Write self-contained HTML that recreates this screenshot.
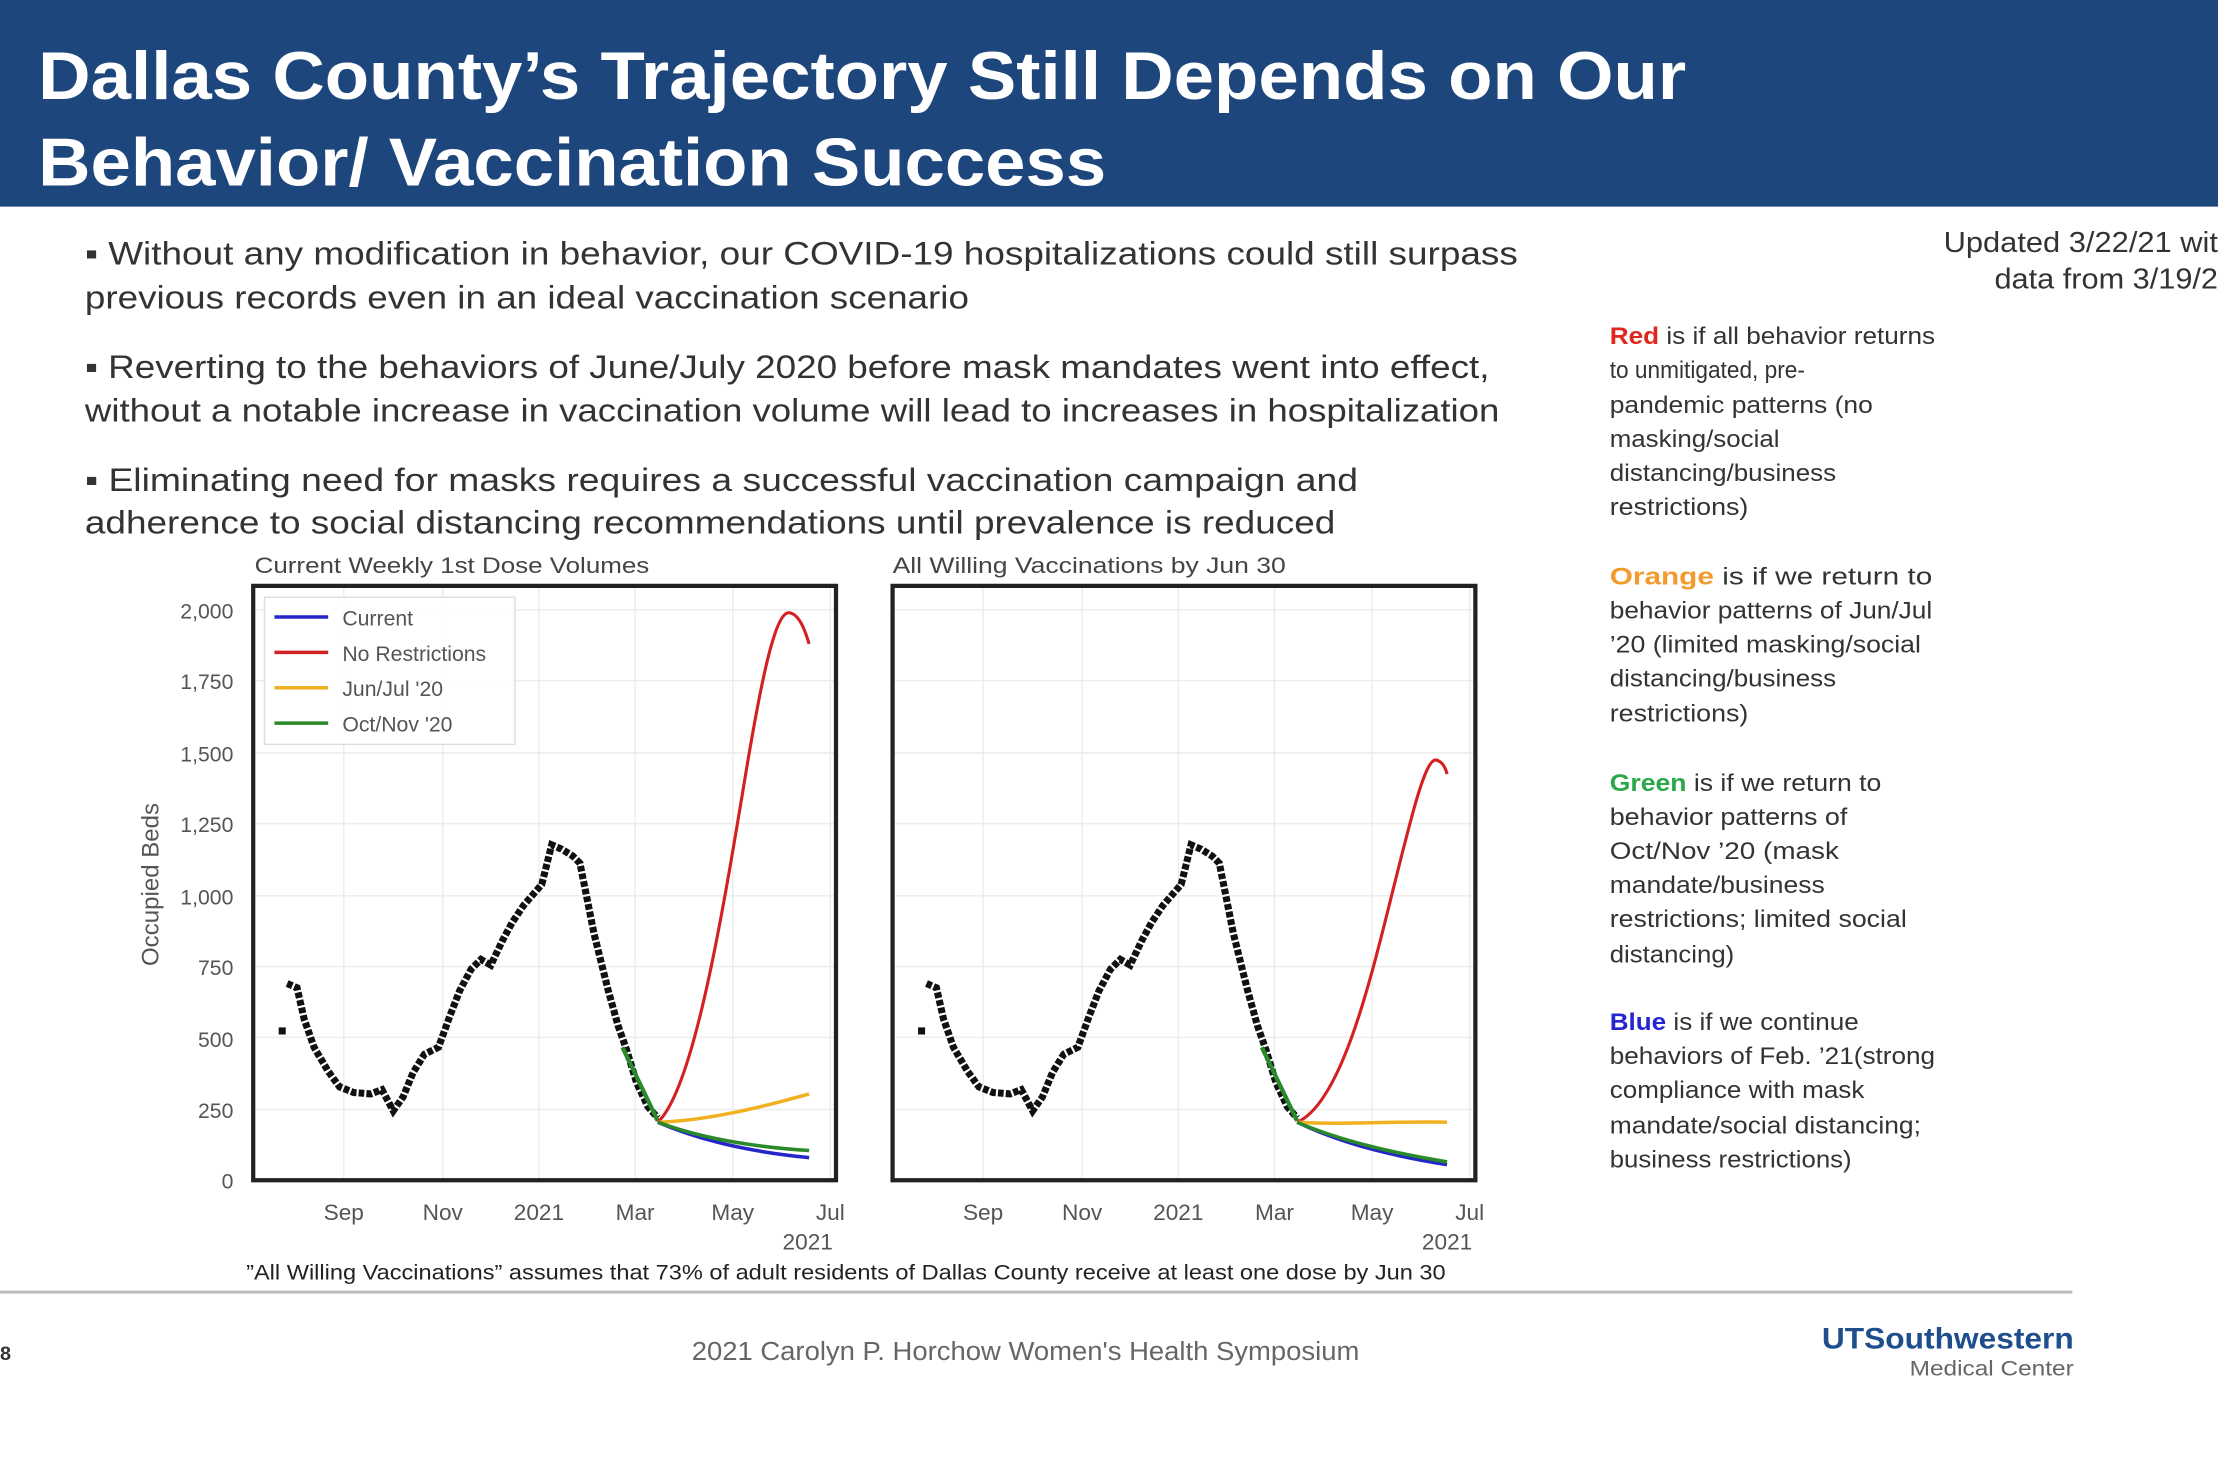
<!DOCTYPE html>
<html><head><meta charset="utf-8"><style>
html,body{margin:0;padding:0;background:#fff;}
svg{display:block;}
text{font-family:"Liberation Sans",sans-serif;}
</style></head><body>
<svg width="2218" height="1476" viewBox="0 0 1568 1043" preserveAspectRatio="none">
<rect x="0" y="0" width="1568" height="1043" fill="#fff"/>
<rect x="0" y="0" width="1568" height="146" fill="#1c467c"/>
<text x="27" y="70" font-size="48" font-weight="bold" fill="#fff" textLength="1165" lengthAdjust="spacingAndGlyphs">Dallas County’s Trajectory Still Depends on Our</text>
<text x="27" y="131" font-size="48" font-weight="bold" fill="#fff" textLength="755" lengthAdjust="spacingAndGlyphs">Behavior/ Vaccination Success</text>

<g font-size="23" fill="#333">
<text x="60" y="187" textLength="1013" lengthAdjust="spacingAndGlyphs">▪  Without any modification in behavior, our COVID-19 hospitalizations could still surpass</text>
<text x="60" y="218" textLength="625" lengthAdjust="spacingAndGlyphs">previous records even in an ideal vaccination scenario</text>
<text x="60" y="267" textLength="993" lengthAdjust="spacingAndGlyphs">▪  Reverting to the behaviors of June/July 2020 before mask mandates went into effect,</text>
<text x="60" y="298" textLength="1000" lengthAdjust="spacingAndGlyphs">without a notable increase in vaccination volume will lead to increases in hospitalization</text>
<text x="60" y="347" textLength="900" lengthAdjust="spacingAndGlyphs">▪  Eliminating need for masks requires a successful vaccination campaign and</text>
<text x="60" y="377" textLength="884" lengthAdjust="spacingAndGlyphs">adherence to social distancing recommendations until prevalence is reduced</text>
</g>
<g font-size="20" fill="#333">
<text x="1374" y="178" textLength="194" lengthAdjust="spacingAndGlyphs">Updated 3/22/21 wit</text>
<text x="1410" y="204" textLength="158" lengthAdjust="spacingAndGlyphs">data from 3/19/2</text>
</g>
<g font-size="17" fill="#333">
<text x="1138" y="243" textLength="230" lengthAdjust="spacingAndGlyphs"><tspan fill="#e0261e" font-weight="bold">Red</tspan> is if all behavior returns</text>
<text x="1138" y="267" textLength="138" lengthAdjust="spacingAndGlyphs">to unmitigated, pre-</text>
<text x="1138" y="292" textLength="186" lengthAdjust="spacingAndGlyphs">pandemic patterns (no</text>
<text x="1138" y="316" textLength="120" lengthAdjust="spacingAndGlyphs">masking/social</text>
<text x="1138" y="340" textLength="160" lengthAdjust="spacingAndGlyphs">distancing/business</text>
<text x="1138" y="364" textLength="98" lengthAdjust="spacingAndGlyphs">restrictions)</text>
<text x="1138" y="413" textLength="228" lengthAdjust="spacingAndGlyphs"><tspan fill="#f39a2b" font-weight="bold">Orange</tspan> is if we return to</text>
<text x="1138" y="437" textLength="228" lengthAdjust="spacingAndGlyphs">behavior patterns of Jun/Jul</text>
<text x="1138" y="461" textLength="220" lengthAdjust="spacingAndGlyphs">’20 (limited masking/social</text>
<text x="1138" y="485" textLength="160" lengthAdjust="spacingAndGlyphs">distancing/business</text>
<text x="1138" y="510" textLength="98" lengthAdjust="spacingAndGlyphs">restrictions)</text>
<text x="1138" y="559" textLength="192" lengthAdjust="spacingAndGlyphs"><tspan fill="#2ba848" font-weight="bold">Green</tspan> is if we return to</text>
<text x="1138" y="583" textLength="168" lengthAdjust="spacingAndGlyphs">behavior patterns of</text>
<text x="1138" y="607" textLength="162" lengthAdjust="spacingAndGlyphs">Oct/Nov ’20 (mask</text>
<text x="1138" y="631" textLength="152" lengthAdjust="spacingAndGlyphs">mandate/business</text>
<text x="1138" y="655" textLength="210" lengthAdjust="spacingAndGlyphs">restrictions; limited social</text>
<text x="1138" y="680" textLength="88" lengthAdjust="spacingAndGlyphs">distancing)</text>
<text x="1138" y="728" textLength="176" lengthAdjust="spacingAndGlyphs"><tspan fill="#2626d0" font-weight="bold">Blue</tspan> is if we continue</text>
<text x="1138" y="752" textLength="230" lengthAdjust="spacingAndGlyphs">behaviors of Feb. ’21(strong</text>
<text x="1138" y="776" textLength="180" lengthAdjust="spacingAndGlyphs">compliance with mask</text>
<text x="1138" y="801" textLength="220" lengthAdjust="spacingAndGlyphs">mandate/social distancing;</text>
<text x="1138" y="825" textLength="171" lengthAdjust="spacingAndGlyphs">business restrictions)</text>
</g>

<!-- chart titles -->
<g font-size="16" fill="#444">
<text x="180" y="405" textLength="279" lengthAdjust="spacingAndGlyphs">Current Weekly 1st Dose Volumes</text>
<text x="631" y="405" textLength="278" lengthAdjust="spacingAndGlyphs">All Willing Vaccinations by Jun 30</text>
</g>
<!-- y ticks -->
<g font-size="15" fill="#555" text-anchor="end">
<text x="165" y="437">2,000</text><text x="165" y="487">1,750</text><text x="165" y="538">1,500</text>
<text x="165" y="588">1,250</text><text x="165" y="639">1,000</text><text x="165" y="689">750</text>
<text x="165" y="740">500</text><text x="165" y="790">250</text><text x="165" y="840">0</text>
</g>
<text x="112" y="625" font-size="17" fill="#555" text-anchor="middle" transform="rotate(-90 112 625)">Occupied Beds</text>

<defs>
<g id="grid" stroke="#ececec" stroke-width="1">
<line x1="0" y1="431" x2="412" y2="431"/><line x1="0" y1="481" x2="412" y2="481"/><line x1="0" y1="532" x2="412" y2="532"/>
<line x1="0" y1="582" x2="412" y2="582"/><line x1="0" y1="633" x2="412" y2="633"/><line x1="0" y1="683" x2="412" y2="683"/>
<line x1="0" y1="733" x2="412" y2="733"/><line x1="0" y1="784" x2="412" y2="784"/>
<line x1="64" y1="414" x2="64" y2="834"/><line x1="134" y1="414" x2="134" y2="834"/><line x1="202" y1="414" x2="202" y2="834"/>
<line x1="270" y1="414" x2="270" y2="834"/><line x1="339" y1="414" x2="339" y2="834"/><line x1="408" y1="414" x2="408" y2="834"/>
</g>
<polyline id="obs" fill="none" stroke="#111" stroke-width="5" stroke-dasharray="4 1.5" points="203,695 210,698 215,720 222,740 232,757 240,768 250,772 262,773 270,770 278,785 285,775 292,758 300,745 310,740 318,718 325,700 333,685 340,678 347,682 355,665 362,652 370,640 376,633 383,625 390,597 397,600 405,605 410,610 416,640 420,660 425,680 430,700 437,725 443,742 450,765 458,782 465,790"/>
<g id="xt" font-size="16" fill="#555" text-anchor="middle">
<text x="243" y="862">Sep</text><text x="313" y="862">Nov</text><text x="381" y="862">2021</text>
<text x="449" y="862">Mar</text><text x="518" y="862">May</text><text x="587" y="862">Jul</text>
<text x="571" y="883">2021</text>
</g>
</defs>

<!-- left chart -->
<g transform="translate(179,0)"><use href="#grid"/></g>
<use href="#obs"/>
<rect x="197" y="726" width="5" height="5" fill="#111"/>
<path d="M440,740 L465,792" stroke="#2a8a2a" stroke-width="3" fill="none"/>
<path d="M465,793 C490,770 510,650 525,560 C538,480 548,432 558,433 C565,434 569,445 572,455" stroke="#d42020" stroke-width="2.2" fill="none"/>
<path d="M465,793 C500,792 540,782 572,773" stroke="#f0b020" stroke-width="2.5" fill="none"/>
<path d="M465,793 C500,808 540,815 572,818" stroke="#2626c8" stroke-width="2.5" fill="none"/>
<path d="M465,793 C500,806 540,811 572,813" stroke="#2a8a2a" stroke-width="2.5" fill="none"/>
<rect x="179" y="414" width="412" height="420" fill="none" stroke="#222" stroke-width="3"/>
<rect x="187" y="422" width="177" height="104" fill="#fff" fill-opacity="0.9" stroke="#ddd"/>
<g stroke-width="2.5">
<line x1="194" y1="436" x2="232" y2="436" stroke="#2626c8"/><line x1="194" y1="461" x2="232" y2="461" stroke="#d42020"/>
<line x1="194" y1="486" x2="232" y2="486" stroke="#f0b020"/><line x1="194" y1="511" x2="232" y2="511" stroke="#2a8a2a"/>
</g>
<g font-size="15" fill="#555">
<text x="242" y="442">Current</text><text x="242" y="467">No Restrictions</text>
<text x="242" y="492">Jun/Jul '20</text><text x="242" y="517">Oct/Nov '20</text>
</g>
<use href="#xt"/>

<!-- right chart -->
<g transform="translate(631,0)"><use href="#grid"/></g>
<g transform="translate(452,0)"><use href="#obs"/><use href="#xt"/>
<rect x="197" y="726" width="5" height="5" fill="#111"/>
<path d="M440,740 L465,792" stroke="#2a8a2a" stroke-width="3" fill="none"/>
<path d="M465,793 C495,780 515,700 530,640 C545,580 555,537 563,537 C568,538 570,543 571,547" stroke="#d42020" stroke-width="2.2" fill="none"/>
<path d="M465,793 C500,795 540,792 571,793" stroke="#f0b020" stroke-width="2.5" fill="none"/>
<path d="M465,793 C500,810 540,818 571,823" stroke="#2626c8" stroke-width="2.5" fill="none"/>
<path d="M465,793 C500,808 540,816 571,821" stroke="#2a8a2a" stroke-width="2.5" fill="none"/>
</g>
<rect x="631" y="414" width="412" height="420" fill="none" stroke="#222" stroke-width="3"/>

<text x="598" y="904" font-size="15" fill="#222" text-anchor="middle" textLength="848" lengthAdjust="spacingAndGlyphs">”All Willing Vaccinations” assumes that 73% of adult residents of Dallas County receive at least one dose by Jun 30</text>
<line x1="0" y1="913" x2="1465" y2="913" stroke="#bbb" stroke-width="2"/>
<text x="0" y="961" font-size="14" font-weight="bold" fill="#333">8</text>
<text x="725" y="961" font-size="18" fill="#666" text-anchor="middle" textLength="472" lengthAdjust="spacingAndGlyphs">2021 Carolyn P. Horchow Women's Health Symposium</text>
<text x="1288" y="953" font-size="21" font-weight="bold" fill="#1f4e8c" textLength="178" lengthAdjust="spacingAndGlyphs">UTSouthwestern</text>
<text x="1350" y="972" font-size="15" fill="#666" textLength="116" lengthAdjust="spacingAndGlyphs">Medical Center</text>
</svg>
</body></html>
